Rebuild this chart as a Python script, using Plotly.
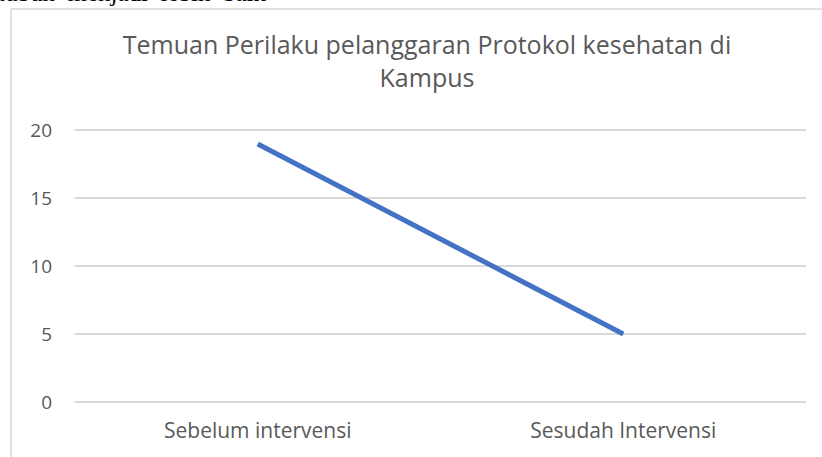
import plotly.graph_objects as go

categories = ['Sebelum intervensi', 'Sesudah Intervensi']
temuan = [19, 5]
y_ticks = [0, 5, 10, 15, 20]

TITLE = 'Temuan Perilaku pelanggaran Protokol kesehatan di<br>Kampus'
FONT = 'Open Sans'
GREY = '#595959'
GRID = '#d9d9d9'

W, H = 822, 457
L, R, T, B = 75, 16, 129, 55
pw, ph = W - L - R, H - T - B

fig = go.Figure(go.Scatter(
    x=categories, y=temuan,
    mode='lines',
    line=dict(color='#4472C4', width=5),
    showlegend=False,
    hoverinfo='x+y',
))

fig.update_layout(
    width=W, height=H,
    margin=dict(l=L, r=R, t=T, b=B),
    paper_bgcolor='white',
    plot_bgcolor='white',
    font=dict(family=FONT, color=GREY, size=18),
    title=dict(text=TITLE, x=(427 - L) / pw, xref='paper', xanchor='center',
               y=1 - 54 / H, yanchor='top',
               font=dict(family=FONT, size=25, color=GREY)),
    shapes=[
        # chart frame (left and top edges visible in the crop)
        dict(type='line', xref='paper', yref='paper',
             x0=-(L - 11) / pw, x1=(W - L + 10) / pw,
             y0=1 + (T - 9) / ph, y1=1 + (T - 9) / ph,
             line=dict(color=GRID, width=1.5)),
        dict(type='line', xref='paper', yref='paper',
             x0=-(L - 11) / pw, x1=-(L - 11) / pw,
             y0=1 + (T - 9) / ph, y1=-(B + 10) / ph,
             line=dict(color=GRID, width=1.5)),
    ],
    annotations=[
        # clipped line of the surrounding document text
        dict(text='tubuh  menjadi  lebih  baik', xref='paper', yref='paper',
             x=-(L + 4) / pw, y=1 + (T - 8) / ph,
             xanchor='left', yanchor='bottom', showarrow=False,
             font=dict(family='Liberation Serif', size=25, color='black')),
    ],
)

fig.update_xaxes(
    type='category',
    range=[-0.5, 1.5],
    showgrid=False,
    showline=False,
    zeroline=False,
    ticks='',
    ticklabelstandoff=14,
    tickfont=dict(size=21, color=GREY),
)
fig.update_yaxes(
    range=[0, 20.1],
    tickvals=y_ticks,
    showgrid=True, gridcolor=GRID, gridwidth=1.5,
    zeroline=True, zerolinecolor=GRID, zerolinewidth=1.5,
    showline=False,
    ticks='',
    ticklabelstandoff=22,
    tickfont=dict(size=19, color=GREY),
)

# drop the browser's default body margin so the figure sits at the corner
fig.write_html('out.html', config={'displayModeBar': False},
               post_script="document.body.style.margin='0';")
